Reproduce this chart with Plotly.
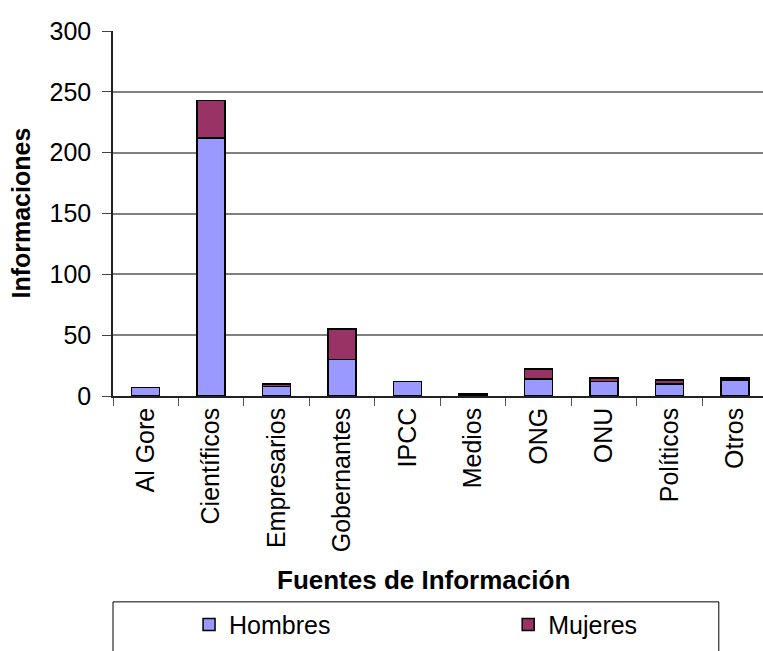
import plotly.graph_objects as go

categories = ["Al Gore", "Científicos", "Empresarios", "Gobernantes", "IPCC",
              "Medios", "ONG", "ONU", "Políticos", "Otros"]
hombres = [7, 212, 8, 30, 12, 1, 14, 12, 10, 13]
mujeres = [0, 31, 2, 25, 0, 1, 8, 3, 3, 2]
y_ticks = [0, 50, 100, 150, 200, 250, 300]

font = "Arial, Liberation Sans, sans-serif"

fig = go.Figure()
fig.add_trace(go.Bar(name="Hombres", x=categories, y=hombres, legend="legend",
                     marker=dict(color="#9999FF", line=dict(color="black", width=1.5))))
fig.add_trace(go.Bar(name="Mujeres", x=categories, y=mujeres, legend="legend2",
                     marker=dict(color="#993366", line=dict(color="black", width=1.5))))

leg_common = dict(orientation="h", y=-0.627, yanchor="middle", xanchor="left",
                  font=dict(size=25), bgcolor="rgba(0,0,0,0)", borderwidth=0)

fig.update_layout(
    barmode="stack",
    bargap=0.572,
    width=763, height=651,
    margin=dict(l=113, r=0, t=31, b=255, autoexpand=False),
    paper_bgcolor="white", plot_bgcolor="white",
    font=dict(family=font, size=25, color="black"),
    showlegend=True,
    legend=dict(x=0.117, **leg_common),
    legend2=dict(x=0.608, **leg_common),
    shapes=[dict(type="rect", xref="paper", yref="paper", x0=0, x1=0.932,
                 y0=-0.564, y1=-0.75, line=dict(color="black", width=1))],
    annotations=[
        dict(text="<b>Informaciones</b>", xref="paper", yref="paper", x=-0.143, y=0.5,
             xanchor="center", yanchor="middle", textangle=-90, showarrow=False,
             font=dict(size=25)),
        dict(text="<b>Fuentes de Información</b>", xref="paper", yref="paper",
             x=0.477, y=-0.504, xanchor="center", yanchor="middle", showarrow=False,
             font=dict(size=26)),
    ],
)
fig.update_xaxes(
    range=[-0.5, 9.43],
    tickangle=-90, tickson="boundaries", ticks="outside", ticklen=8, tickcolor="#555555",
    showline=True, linecolor="#222222", linewidth=1.5,
    tickfont=dict(size=25),
)
fig.update_yaxes(
    range=[0, 300], tickvals=y_ticks, ticks="outside", ticklen=9, tickcolor="#444444",
    showline=True, linecolor="#222222", linewidth=1.5,
    showgrid=True, gridcolor="#808080", gridwidth=1.5,
    ticklabelstandoff=6,
    tickfont=dict(size=25),
)

fig.write_html("out.html", config={"displayModeBar": False},
               post_script="document.body.style.margin='0';")
